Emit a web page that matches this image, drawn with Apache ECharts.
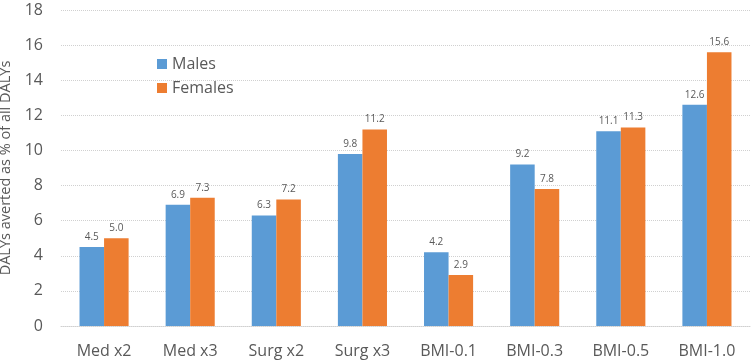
<!DOCTYPE html>
<html>
<head>
<meta charset="utf-8">
<script src="https://cdn.jsdelivr.net/npm/echarts@6/dist/echarts.min.js"></script>
<style>
  html, body { margin: 0; padding: 0; background: #fff; }
  #chart { width: 753px; height: 363px; }
</style>
</head>
<body>
<div id="chart"></div>
<script>
const categories = ['Med x2', 'Med x3', 'Surg x2', 'Surg x3', 'BMI-0.1', 'BMI-0.3', 'BMI-0.5', 'BMI-1.0']
const males = [4.5, 6.9, 6.3, 9.8, 4.2, 9.2, 11.1, 12.6]
const females = [5.0, 7.3, 7.2, 11.2, 2.9, 7.8, 11.3, 15.6]
const yTicks = { min: 0, max: 18, interval: 2 }

const chart = echarts.init(document.getElementById('chart'))

// 数据标签样式
const labelStyle = {
  show: true,
  position: 'top',
  distance: 5,
  color: '#595959',
  fontSize: 10,
  fontFamily: 'Open Sans',
  formatter: (p) => p.value.toFixed(1)
}

chart.setOption({
  animation: false,
  textStyle: { fontFamily: 'Open Sans' },
  legend: {
    orient: 'vertical',
    left: 152,
    top: 51,
    itemWidth: 10,
    itemHeight: 10,
    itemGap: 8,
    icon: 'rect',
    textStyle: { color: '#595959', fontSize: 16 },
    data: ['Males', 'Females']
  },
  grid: { left: 61, right: 3, top: 10, bottom: 37, outerBoundsMode: 'none' },
  xAxis: {
    type: 'category',
    data: categories,
    axisTick: { show: false },
    axisLine: { show: true, lineStyle: { color: '#d0d0d0', type: 'dotted' } },
    axisLabel: { color: '#595959', fontSize: 16, margin: 17 }
  },
  yAxis: {
    type: 'value',
    min: yTicks.min,
    max: yTicks.max,
    interval: yTicks.interval,
    name: 'DALYs averted as % of all DALYs',
    nameLocation: 'middle',
    nameGap: 32,
    nameTextStyle: { color: '#595959', fontSize: 14.5 },
    axisLine: { show: false },
    axisTick: { show: false },
    axisLabel: { color: '#595959', fontSize: 16, margin: 18 },
    splitLine: { lineStyle: { color: '#d0d0d0', type: 'dotted' } }
  },
  series: [
    {
      name: 'Males',
      type: 'bar',
      data: males,
      barWidth: '28.5%',
      barGap: '0%',
      itemStyle: { color: '#5b9bd5' },
      label: labelStyle
    },
    {
      name: 'Females',
      type: 'bar',
      data: females,
      barWidth: '28.5%',
      itemStyle: { color: '#ed7d31' },
      label: labelStyle
    }
  ]
})

window.addEventListener('resize', () => chart.resize())
</script>
</body>
</html>
